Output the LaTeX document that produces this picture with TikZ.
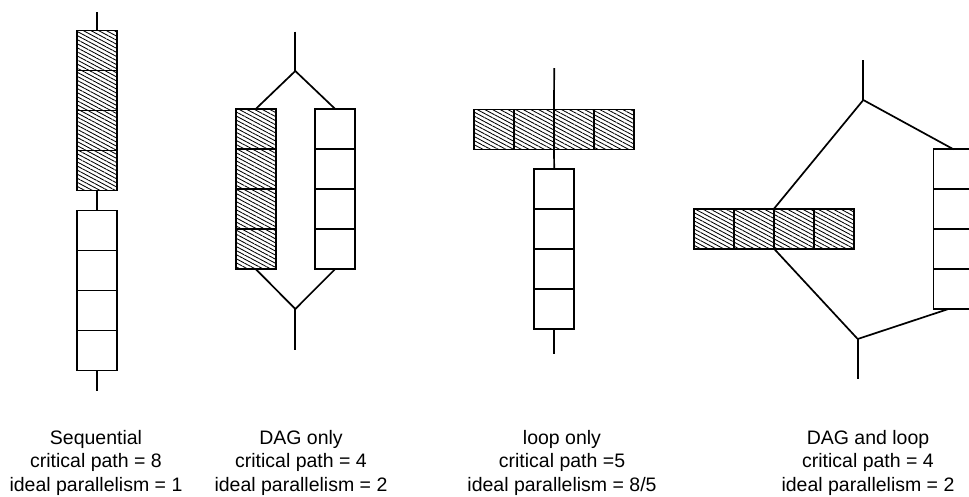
\documentclass[tikz,border=0pt]{standalone}
\usepackage{fontspec}
\setmainfont{Liberation Sans}
\usetikzlibrary{patterns.meta}
\begin{document}
\begin{tikzpicture}[x=1pt,y=-1pt,
  cell/.style={draw, line width=1.7pt, minimum width=40pt, minimum height=40pt,
               inner sep=0pt, outer sep=0pt},
  hcell/.style={cell, pattern={Lines[angle=-28,distance=3.6pt,line width=0.85pt]}},
  wire/.style={line width=1.7pt},
  caption/.style={align=center, anchor=base, inner sep=0pt,
                  font=\fontsize{19.5}{23.5}\selectfont}]
\useasboundingbox (0,0) rectangle (969,496);

% --- sequential: eight tasks in one column ---
\foreach \i in {1,...,4} {
  \node[hcell] (p1h\i) at (96.7,{10.5+40*\i}) {};
  \node[cell]  (p1w\i) at (96.7,{190.5+40*\i}) {};
}
\coordinate (p1top) at (96.7,12);
\coordinate (p1bot) at (96.7,391);
\draw[wire] (p1top) -- (p1h1.north);
\draw[wire] (p1h4.south) -- (p1w1.north);
\draw[wire] (p1w4.south) -- (p1bot);

% --- DAG only: two parallel columns ---
\foreach \i in {1,...,4} {
  \node[hcell] (p2l\i) at (255.7,{89+40*\i}) {};
  \node[cell]  (p2r\i) at (335.2,{89+40*\i}) {};
}
\coordinate (p2top) at (295.3,31.7);
\coordinate (p2fa)  at (295.3,71);
\coordinate (p2fb)  at (295.3,309);
\coordinate (p2bot) at (295.3,350);
\draw[wire] (p2top) -- (p2fa);
\draw[wire] (p2l1.north) -- (p2fa) -- (p2r1.north);
\draw[wire] (p2l4.south) -- (p2fb) -- (p2r4.south);
\draw[wire] (p2fb) -- (p2bot);

% --- loop only: parallel row, then a column ---
\foreach \i in {1,...,4} {
  \node[hcell] (p3h\i) at ({454+40*\i},129.5) {};
  \node[cell]  (p3w\i) at (554.2,{149.3+40*\i}) {};
}
\coordinate (p3top) at (554.2,68);
\coordinate (p3bot) at (554.2,354);
\draw[wire] (p3top) -- (p3h2.north east);
\draw[wire] (p3h2.south east) -- (p3w1.north);
\draw[wire] (p3w4.south) -- (p3bot);

% --- DAG and loop: parallel row beside a column ---
\foreach \i in {1,...,4} {
  \node[hcell] (p4h\i) at ({674+40*\i},228.7) {};
  \node[cell]  (p4w\i) at (953.5,{129.3+40*\i}) {};
}
\coordinate (p4top) at (863.3,60);
\coordinate (p4fa)  at (863.3,100);
\coordinate (p4fb)  at (857.7,339);
\coordinate (p4bot) at (857.7,379);
\coordinate (p4wb)  at (947.5,309.3);
\draw[wire] (p4top) -- (p4fa);
\draw[wire] (p4h2.north east) -- (p4fa) -- (p4w1.north);
\draw[wire] (p4h2.south east) -- (p4fb) -- (p4wb);
\draw[wire] (p4fb) -- (p4bot);

% --- captions (anchored on the baseline of the last line) ---
\node[caption] (c1) at (96,491)  {Sequential\\critical path = 8\\ideal parallelism = 1};
\node[caption] (c2) at (301,491) {DAG only\\critical path = 4\\ideal parallelism = 2};
\node[caption] (c3) at (562,491) {loop only\\critical path =5\\ideal parallelism = 8/5};
\node[caption] (c4) at (868,491) {DAG and loop\\critical path = 4\\ideal parallelism = 2};
\end{tikzpicture}
\end{document}
